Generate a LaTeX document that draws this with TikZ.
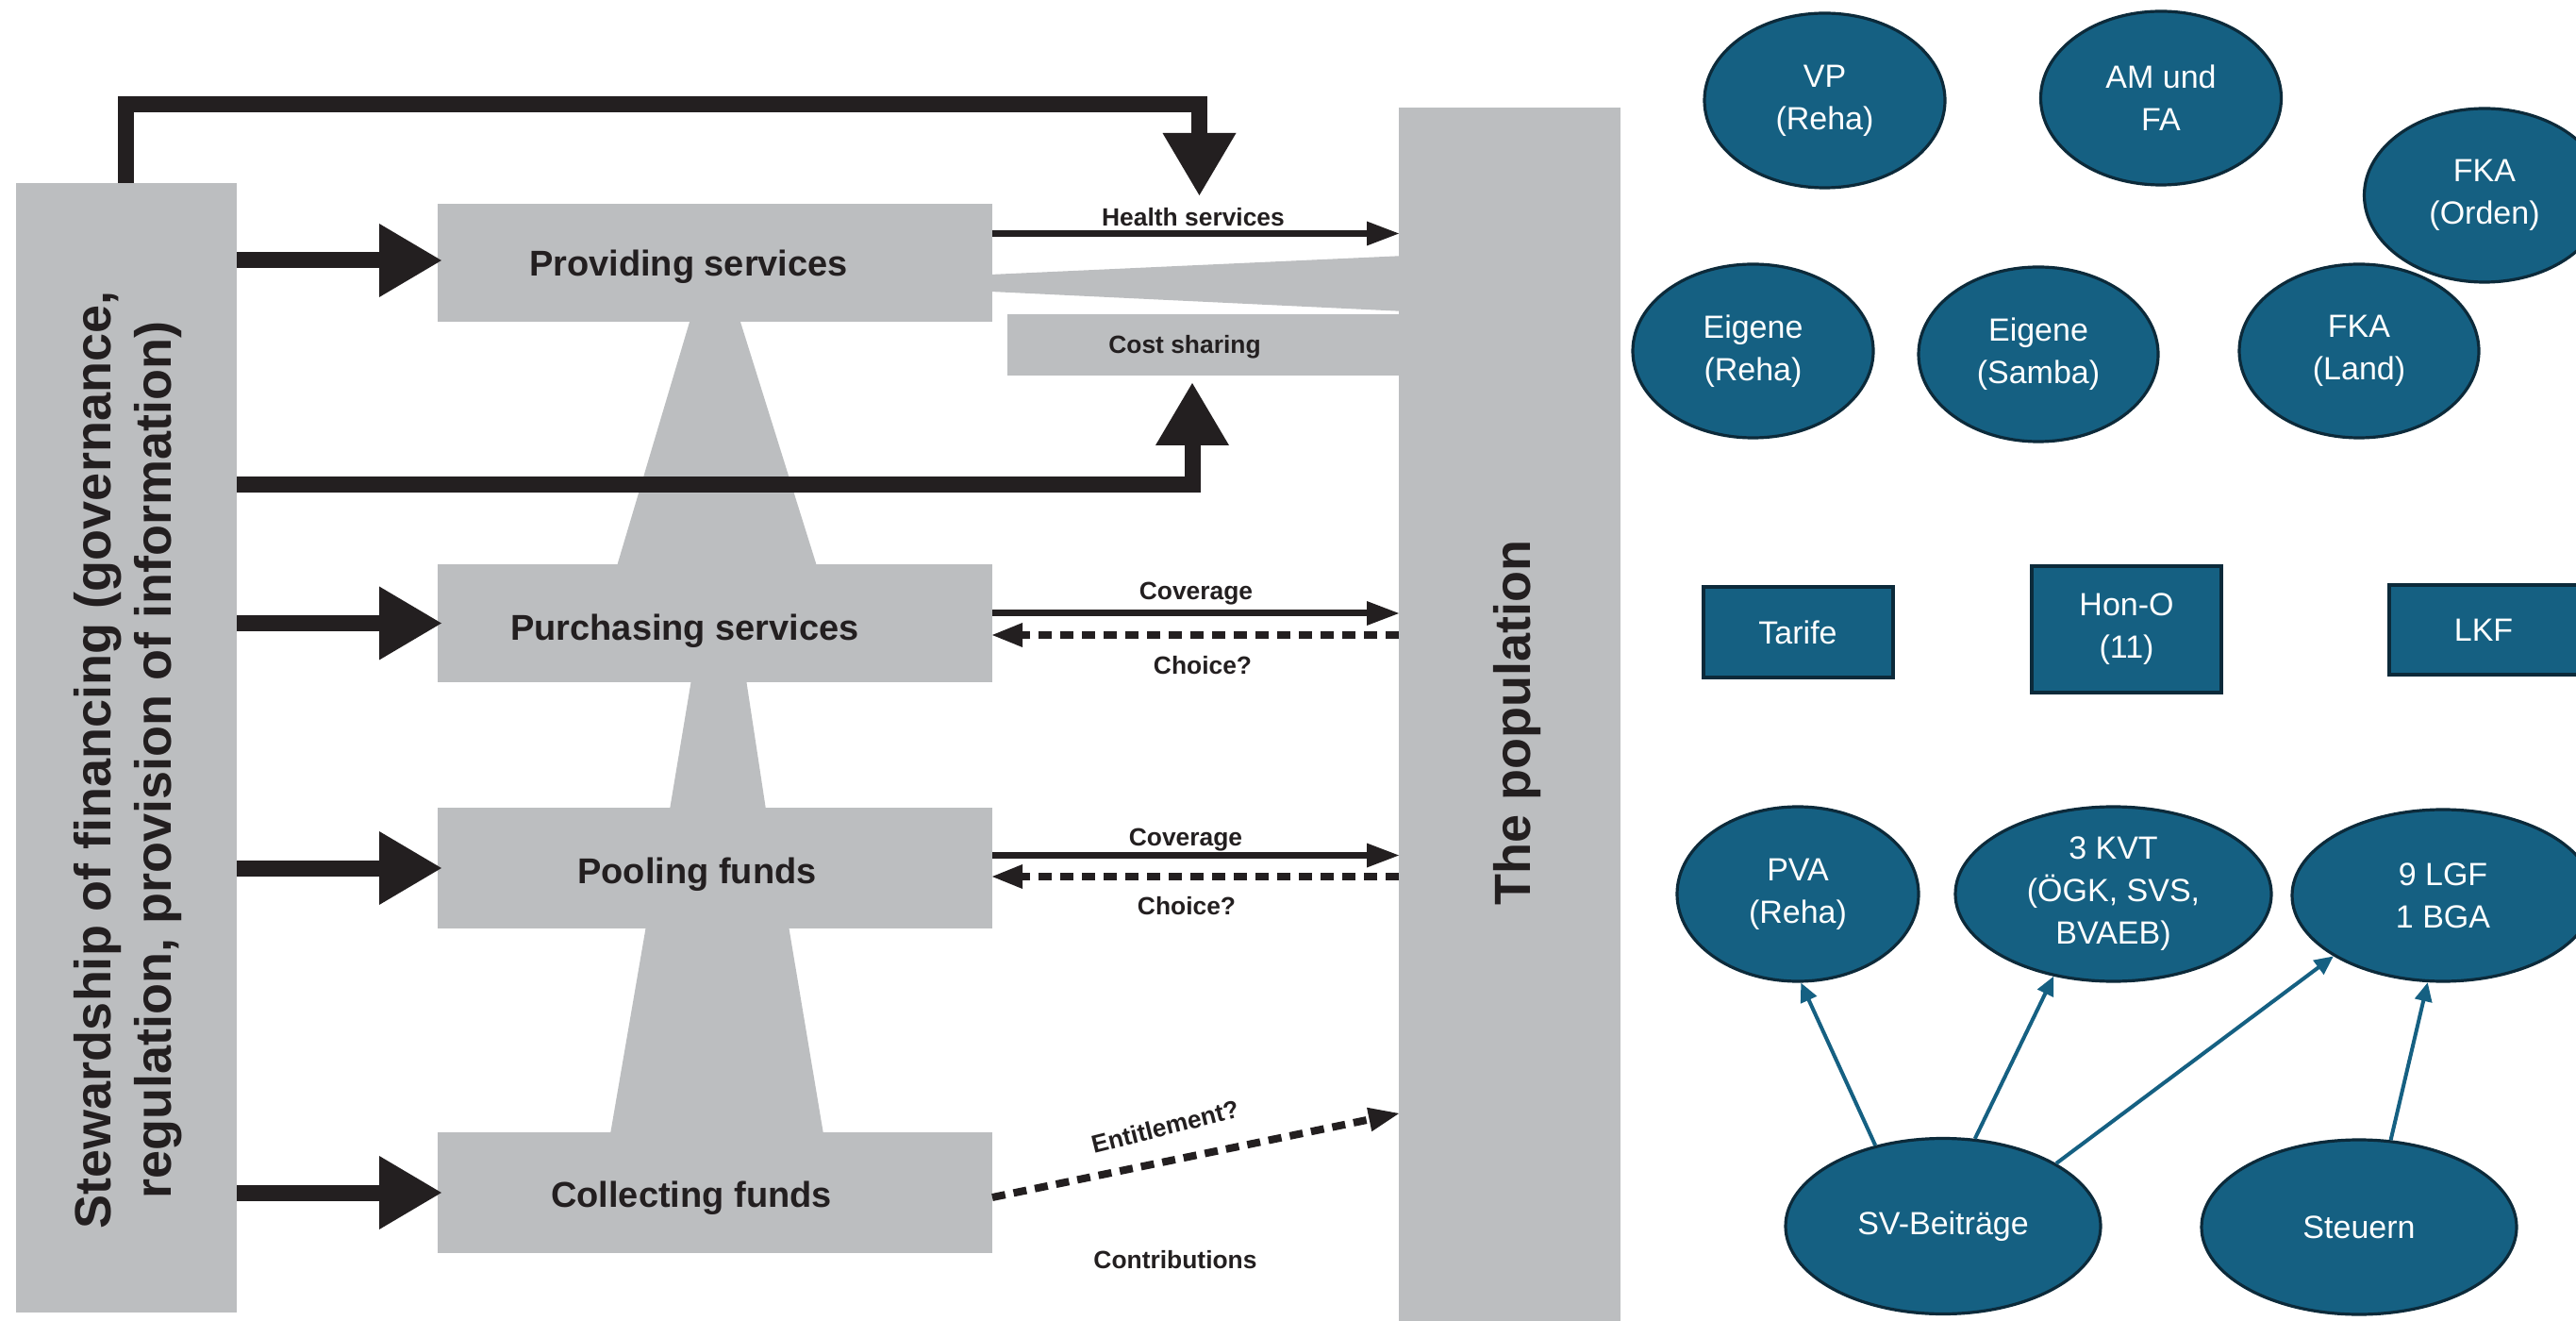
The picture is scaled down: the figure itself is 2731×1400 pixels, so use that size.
\documentclass[tikz,border=0pt]{standalone}
\usepackage{fontspec}
\setmainfont{Liberation Sans}
\usetikzlibrary{arrows.meta,shapes.geometric,calc}
\definecolor{boxgray}{HTML}{BCBEC0}
\definecolor{ink}{HTML}{231F20}
\definecolor{nodeblue}{HTML}{156082}
\definecolor{nodeedge}{HTML}{0C2A3A}
\begin{document}
\begin{tikzpicture}[x=0.5pt,y=-0.5pt,
  graybox/.style={rectangle, fill=boxgray, draw=none, inner sep=0pt, outer sep=0pt, text=ink, text depth=0pt},
  boxfont/.style={font=\bfseries\fontsize{19}{23}\selectfont},
  smallfont/.style={font=\bfseries\fontsize{13.2}{16}\selectfont},
  smalllabel/.style={smallfont, text=ink, anchor=base, inner sep=0pt},
  biglabel/.style={font=\bfseries\fontsize{27}{32}\selectfont, text=ink, inner sep=0pt, align=center},
  bigarrow/.style={draw=ink, line width=8.5pt, line join=miter, line cap=butt,
    -{Triangle[length=33pt,width=39pt,line width=0pt]}},
  thinarrow/.style={draw=ink, line width=3.5pt,
    -{Triangle[length=17pt,width=13pt,line width=0pt]}},
  dasharrow/.style={draw=ink, line width=4pt, dash pattern=on 7pt off 4.5pt,
    -{Triangle[length=16pt,width=13pt,line width=0pt]}},
  ellnode/.style={ellipse, fill=nodeblue, draw=nodeedge, line width=1.6pt, text=white,
    font=\fontsize{17}{22.5}\selectfont, align=center, inner sep=0pt},
  rectnode/.style={rectangle, fill=nodeblue, draw=nodeedge, line width=2pt, text=white,
    font=\fontsize{17}{22.5}\selectfont, align=center, inner sep=0pt},
  bluearrow/.style={draw=nodeblue, line width=2pt, -{Triangle[length=10pt,width=9pt]}}
]
\fill[white] (0,0) rectangle (2731,1400);
\useasboundingbox (0,0) rectangle (2731,1400);

% ---------- left diagram: gray shapes ----------
\fill[boxgray] (732,338) -- (784,338) -- (866,600) -- (654,600) -- cycle;
\fill[boxgray] (733,720) -- (791,720) -- (812,858) -- (710,858) -- cycle;
\fill[boxgray] (685,981) -- (836,981) -- (873,1202) -- (647,1202) -- cycle;
\fill[boxgray] (1050,291) -- (1490,271) -- (1490,330) -- (1050,309) -- cycle;

\node[graybox, minimum width=117pt, minimum height=598.5pt] (steward) at (134,792.5) {};
\node[graybox, boxfont, minimum width=294pt, minimum height=62.5pt, text height=14.5pt] (prov) at (758,278.5)
  {\hspace*{-28pt}Providing services};
\node[graybox, boxfont, minimum width=294pt, minimum height=62.5pt, text height=18.5pt] (purch) at (758,660.5)
  {\hspace*{-32pt}Purchasing services};
\node[graybox, boxfont, minimum width=294pt, minimum height=64pt, text height=16.5pt] (pool) at (758,920)
  {\hspace*{-19pt}Pooling funds};
\node[graybox, boxfont, minimum width=294pt, minimum height=64pt, text height=15pt] (coll) at (758,1264)
  {\hspace*{-25pt}Collecting funds};
\node[graybox, smallfont, minimum width=211pt, minimum height=32.5pt, text height=9.1pt] (cost) at (1279,365.5)
  {\hspace*{-23pt}Cost sharing};
\node[graybox, minimum width=117.5pt, minimum height=648pt] (pop) at (1600.5,762) {};

% labels
\node[biglabel, rotate=90] (stewtext) at (136,805.5)
  {Stewardship of financing (governance,\\regulation, provision of information)};
\node[biglabel, anchor=base, rotate=90] (poptext) at (1622,766) {The population};
\node[smalllabel] (hstext) at (1265,239.4) {Health services};
\node[smalllabel] (cov1) at (1268,636) {Coverage};
\node[smalllabel] (cho1) at (1275,715) {Choice?};
\node[smalllabel] (cov2) at (1257,896.6) {Coverage};
\node[smalllabel] (cho2) at (1258,969) {Choice?};
\node[smalllabel] (contr) at (1246,1344.4) {Contributions};
\node[smalllabel, rotate=14] (entit) at (1237.5,1203) {Entitlement?};

% ---------- left diagram: arrows ----------
\coordinate (hstip) at (1271.5,207);
\coordinate (cstip) at (1264,406);
\draw[bigarrow] (steward.north -| 133.5,0) |- (hstip |- 0,111) -- (hstip);
\draw[bigarrow] (steward.east |- 0,514) -| (cstip);
\draw[bigarrow] (steward.east |- 0,276) -- ([xshift=2pt]prov.west |- 0,276);
\draw[bigarrow] (steward.east |- purch.west) -- ([xshift=2pt]purch.west);
\draw[bigarrow] (steward.east |- pool.west) -- ([xshift=2pt]pool.west);
\draw[bigarrow] (steward.east |- coll.west) -- ([xshift=2pt]coll.west);

\draw[thinarrow] (prov.east |- 0,247.5) -- (pop.west |- 0,247.5);
\draw[thinarrow] (purch.east |- 0,650) -- (pop.west |- 0,650);
\draw[dasharrow] (pop.west |- 0,673) -- (purch.east |- 0,673);
\draw[thinarrow] (pool.east |- 0,906.5) -- (pop.west |- 0,906.5);
\draw[dasharrow] (pop.west |- 0,929) -- (pool.east |- 0,929);
\draw[dasharrow] (coll.east |- 0,1269) -- (pop.west |- 0,1180);

% ---------- right diagram ----------
\node[ellnode, minimum width=127.5pt, minimum height=92.5pt] (vp) at (1934.5,106.5) {VP\\(Reha)};
\node[ellnode, minimum width=127.5pt, minimum height=92pt] (amfa) at (2291,104) {AM und\\FA};
\node[ellnode, minimum width=127.5pt, minimum height=92pt] (fkao) at (2634,207) {FKA\\(Orden)};
\node[ellnode, minimum width=127.5pt, minimum height=92pt] (eigr) at (1858.5,372) {Eigene\\(Reha)};
\node[ellnode, minimum width=127pt, minimum height=92.5pt] (eigs) at (2161,375.5) {Eigene\\(Samba)};
\node[ellnode, minimum width=127pt, minimum height=92pt] (fkal) at (2501,372) {FKA\\(Land)};

\node[rectnode, minimum width=100.5pt, minimum height=48pt] (tarife) at (1906,670) {Tarife};
\node[rectnode, minimum width=100.5pt, minimum height=67pt] (hono) at (2254.5,667) {Hon-O\\(11)};
\node[rectnode, minimum width=100pt, minimum height=47.5pt] (lkf) at (2633,667.5) {LKF};

\node[ellnode, minimum width=128pt, minimum height=92.5pt] (pva) at (1906,947.5) {PVA\\(Reha)};
\node[ellnode, minimum width=167.5pt, minimum height=92.5pt] (kvt) at (2240.5,947.5) {3 KVT\\(ÖGK, SVS,\\BVAEB)};
\node[ellnode, minimum width=160pt, minimum height=91pt] (lgf) at (2590,949) {9 LGF\\1 BGA};
\node[ellnode, minimum width=167pt, minimum height=93pt] (sv) at (2060,1299.5) {SV-Beiträge};
\node[ellnode, minimum width=167pt, minimum height=92.5pt] (steuern) at (2501,1300.5) {Steuern};

\draw[bluearrow] (sv.130) -- (pva.272);
\draw[bluearrow] (sv.70) -- (kvt.234);
\draw[bluearrow] (sv.29) -- (lgf.209.5);
\draw[bluearrow] (steuern.70) -- (lgf.260);
\end{tikzpicture}
\end{document}
